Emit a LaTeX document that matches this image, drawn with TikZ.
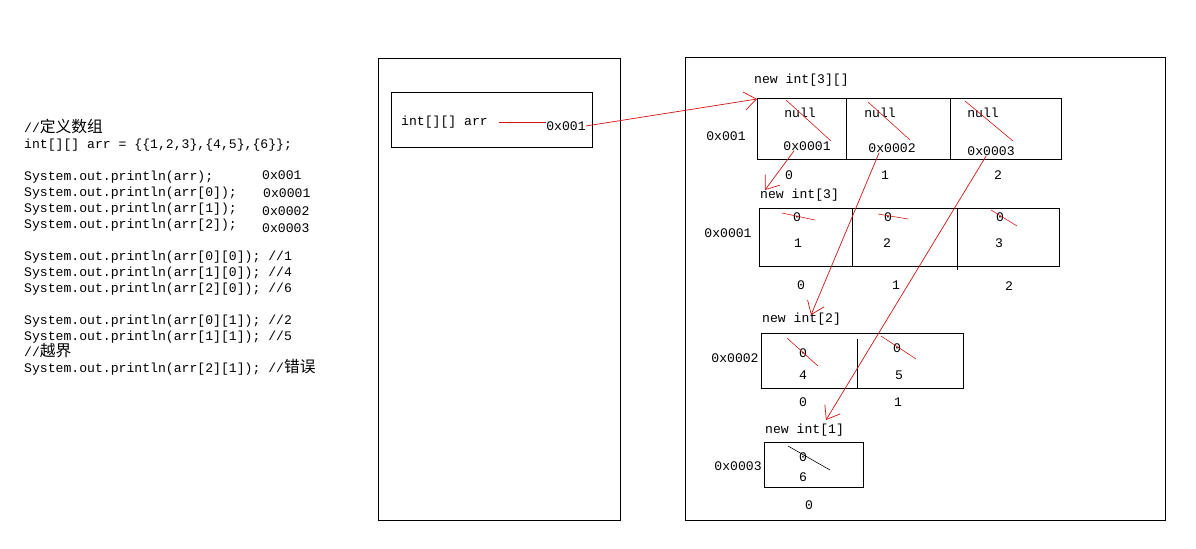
\documentclass[tikz,border=0pt]{standalone}
\usepackage{fontspec}
\newfontfamily\monofont{Liberation Mono}
\newfontfamily\cjk[Scale=1.2]{Noto Sans CJK SC}
\newcommand\code{\monofont\fontsize{11.2pt}{13.66pt}\selectfont}
\usetikzlibrary{arrows.meta}
\definecolor{linkred}{RGB}{210,20,20}

\begin{document}
\begin{tikzpicture}[x=0.03cm,y=-0.03cm,
  txt/.style={font=\code, inner sep=0pt},
  frame/.style={draw, line width=0.7pt},
  ref/.style={draw=linkred, line width=0.6pt, -{Straight Barb[length=3.6mm,width=5.4mm,line width=0.6pt]}},
  strike/.style={draw=linkred, line width=0.5pt}]
\useasboundingbox[fill=white] (0,0) rectangle (1196,548);

\node[txt, anchor=north west, align=left] (code) at (24,119) {//{\cjk 定义数组}\\
int[][] arr = \{\{1,2,3\},\{4,5\},\{6\}\};\\ \mbox{}\\
System.out.println(arr);\\
System.out.println(arr[0]);\\
System.out.println(arr[1]);\\
System.out.println(arr[2]);\\ \mbox{}\\
System.out.println(arr[0][0]); //1\\
System.out.println(arr[1][0]); //4\\
System.out.println(arr[2][0]); //6\\ \mbox{}\\
System.out.println(arr[0][1]); //2\\
System.out.println(arr[1][1]); //5\\
//{\cjk 越界}\\
System.out.println(arr[2][1]); //{\cjk 错误}};
\node[txt, anchor=west] (out0) at (262,175) {0x001};
\node[txt, anchor=west] (out1) at (263,193) {0x0001};
\node[txt, anchor=west] (out2) at (262,211) {0x0002};
\node[txt, anchor=west] (out3) at (262,228) {0x0003};

\draw[frame] (378,58) rectangle (620,520);
\draw[frame] (391,92) rectangle (592,147);
\node[txt, anchor=west] (arrname) at (401,122) {int[][] arr};
\node[txt] (arrval) at (566,126) {0x001};
\draw[linkred, line width=0.6pt] (arrname.east) ++(11,0) -- (arrval.west |- arrname.east);

\draw[frame] (685,57) rectangle (1165,520);

\node[txt, anchor=west] (h1) at (754,80) {new int[3][]};
\node[txt] (a1) at (726,136) {0x001};
\draw[frame] (757,98) rectangle (1061,159);
\draw[frame] (846,98) -- (846,159) (950,98) -- (950,159);
\coordinate (b1) at (757,99);
\node[txt] (n0) at (800,113) {null};
\node[txt] (n1) at (880,113) {null};
\node[txt] (n2) at (983,113) {null};
\node[txt] (p1) at (807,146) {0x0001};
\node[txt] (p2) at (892,148) {0x0002};
\node[txt] (p3) at (991,151) {0x0003};
\node[txt] at (789,175) {0};
\node[txt] at (885,175) {1};
\node[txt] at (998,175) {2};
\draw[strike] (786,100) -- (831,141) (868,102) -- (910,140) (965,101) -- (1013,141);

\node[txt, anchor=west] (h2) at (760,195) {new int[3]};
\node[txt] (a2) at (728,233) {0x0001};
\draw[frame] (759,208) rectangle (1059,266);
\draw[frame] (852,208) -- (852,266) (957,208) -- (957,270);
\node[txt] at (797,217) {0};
\node[txt] at (888,217) {0};
\node[txt] at (1000,217) {0};
\node[txt] at (798,243) {1};
\node[txt] at (887,243) {2};
\node[txt] at (999,243) {3};
\node[txt] at (801,285) {0};
\node[txt] at (896,285) {1};
\node[txt] at (1009,286) {2};
\draw[strike] (782,213) -- (815,220) (878,214) -- (908,219) (991,210) -- (1017,226);

\node[txt, anchor=west] (h3) at (762,319) {new int[2]};
\node[txt] (a3) at (735,358) {0x0002};
\draw[frame] (761,333) rectangle (963,388);
\draw[frame] (857,339) -- (857,388);
\node[txt] at (803,353) {0};
\node[txt] at (897,348) {0};
\node[txt] at (803,375) {4};
\node[txt] at (899,375) {5};
\node[txt] at (803,402) {0};
\node[txt] at (898,402) {1};
\draw[strike] (787,338) -- (818,366) (881,336) -- (916,359);

\node[txt, anchor=west] (h4) at (765,430) {new int[1]};
\node[txt] (a4) at (738,466) {0x0003};
\draw[frame] (764,442) rectangle (863,487);
\node[txt] at (803,457) {0};
\node[txt] at (803,477) {6};
\node[txt] at (809,505) {0};
\draw[line width=0.5pt] (788,446) -- (830,470);

\coordinate (e1) at (765,190);
\coordinate (e2) at (811,315);
\coordinate (e3) at (826,420);
\draw[ref] (arrval.east) -- (b1);
\draw[ref] (p1.200) -- (e1);
\draw[ref] (p2.200) -- (e2);
\draw[ref] (p3.225) -- (e3);

\end{tikzpicture}
\end{document}
